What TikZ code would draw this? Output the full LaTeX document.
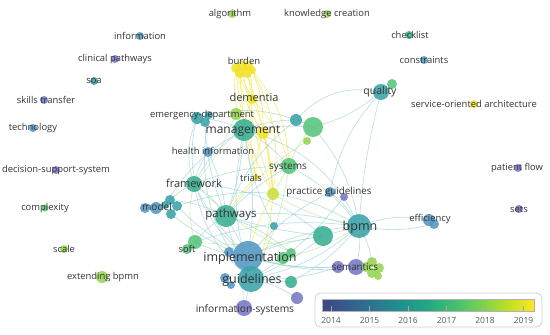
\documentclass[tikz,border=0pt]{standalone}
\usepackage{fontspec}
\setmainfont{Open Sans}
\usetikzlibrary{backgrounds}
\definecolor{cA}{HTML}{7677C6}
\definecolor{cB}{HTML}{5497C4}
\definecolor{cC}{HTML}{3AA3A8}
\definecolor{cD}{HTML}{38AE92}
\definecolor{cE}{HTML}{55C47A}
\definecolor{cF}{HTML}{95D452}
\definecolor{cG}{HTML}{C8E03A}
\definecolor{cH}{HTML}{F2E22A}
\definecolor{txt}{HTML}{333333}
\definecolor{v0}{HTML}{414487}
\definecolor{v1}{HTML}{355F8D}
\definecolor{v2}{HTML}{2A788E}
\definecolor{v3}{HTML}{21918C}
\definecolor{v4}{HTML}{22A884}
\definecolor{v5}{HTML}{44BF70}
\definecolor{v6}{HTML}{7AD151}
\definecolor{v7}{HTML}{BDDF26}
\definecolor{v8}{HTML}{FDE725}
\pgfdeclarehorizontalshading{viridis}{100bp}{color(0bp)=(v0); color(25bp)=(v0); color(31.25bp)=(v1); color(37.5bp)=(v2); color(43.75bp)=(v3); color(50bp)=(v4); color(56.25bp)=(v5); color(62.5bp)=(v6); color(68.75bp)=(v7); color(75bp)=(v8); color(100bp)=(v8)}
\tikzset{
  bub/.style={circle, inner sep=0pt, draw=none, fill opacity=0.88},
  lab/.style={text=txt, inner sep=0pt, font=\fontsize{9.4}{10}\selectfont},
  lkT/.style={draw=cC!50, line width=0.7pt, opacity=0.65},
  lkY/.style={draw=cH!80, line width=0.7pt, opacity=0.75},
  lkG/.style={draw=cF!55, line width=0.7pt, opacity=0.7},
  yr/.style={text=black!65, inner sep=0pt, font=\fontsize{8.5}{9}\selectfont}
}
\newcommand\bub[5]{\node[bub, minimum size=#4pt*2, fill=#5] (#1) at (#2,#3) {};}
\begin{document}
\begin{tikzpicture}[x=1pt,y=-1pt]
\useasboundingbox (0,0) rectangle (550,335);
% isolated nodes
\bub{alg}{232}{14}{4}{cF}
\bub{kc}{327}{14}{4}{cF}
\bub{info}{140}{36}{4}{cB}
\bub{check}{409}{35}{4}{cD}
\bub{clin}{115}{59}{4}{cA}
\bub{cons}{424}{60}{4}{cB}
\bub{soa}{94}{81}{4}{cC}
\bub{skills}{44}{100}{4}{cA}
\bub{soarch}{474}{104}{4}{cH}
\bub{tech}{33}{128}{4}{cB}
\bub{dss}{56}{170}{4}{cA}
\bub{pflow}{518}{168}{4}{cA}
\bub{compl}{45}{208}{3.5}{cE}
\bub{sets}{519}{209}{4}{cA}
\bub{scale}{64}{249}{4}{cF}
\bub{ext}{102}{277}{6}{cF}
% central cluster
\bub{bur1}{236}{68}{5}{cH}
\bub{bur2}{242}{66}{5}{cH}
\bub{bur3}{248}{66}{5}{cH}
\bub{bur4}{240}{73}{5}{cH}
\bub{bur5}{247}{73}{5}{cH}
\bub{bur6}{252}{70}{4}{cH}
\bub{dem}{252}{99}{5}{cH}
\bub{em1}{197}{118}{6}{cC}
\bub{em2}{205}{122}{5}{cC}
\bub{em3}{209}{115}{4}{cC}
\bub{gr236}{236}{114}{6}{cF}
\bub{mgmt}{244}{130}{11}{cD}
\bub{yel263}{263}{133}{6}{cH}
\bub{hinfo}{208}{152}{5}{cB}
\bub{t296}{296}{120}{6}{cC}
\bub{bigG}{313}{127}{10}{cE}
\bub{lim307}{307}{141}{4}{cF}
\bub{qual}{381}{92}{8}{cC}
\bub{qualg}{392}{84}{5}{cE}
\bub{sys}{289}{166}{8}{cE}
\bub{trials}{256}{177}{3}{cH}
\bub{lim273}{273}{194}{6}{cG}
\bub{pg1}{330}{192}{5}{cB}
\bub{pg2}{344}{197}{4}{cA}
\bub{frame}{194}{184}{8}{cD}
\bub{mod1}{145}{208}{5}{cB}
\bub{mod2}{156}{208}{6}{cB}
\bub{mod3}{170}{200}{5}{cC}
\bub{mod4}{177}{206}{5}{cC}
\bub{mod5}{171}{214}{5}{cC}
\bub{mod6}{165}{205}{4}{cC}
\bub{path}{226}{216}{11}{cD}
\bub{t274}{274}{226}{4}{cC}
\bub{soft}{195}{242}{7}{cE}
\bub{soft2}{187}{249}{5}{cE}
\bub{bigT}{323}{236}{10}{cD}
\bub{bpmn}{359}{226}{12}{cC}
\bub{eff1}{429}{220}{6}{cB}
\bub{eff2}{434}{224}{5}{cB}
\bub{impl}{248}{256}{15}{cB}
\bub{impb}{229}{252}{5}{cB}
\bub{g283}{283}{258}{6}{cE}
\bub{g290}{291}{253}{5}{cE}
\bub{guide}{251}{279}{13}{cC}
\bub{gb1}{225}{278}{5}{cB}
\bub{gb2}{231}{285}{4}{cB}
\bub{t291}{291}{282}{6}{cD}
\bub{sem1}{338}{267}{6}{cA}
\bub{sem2}{356}{267}{8}{cA}
\bub{lc1}{372}{262}{5}{cF}
\bub{lc2}{379}{268}{5}{cF}
\bub{lc3}{372}{273}{5}{cF}
\bub{lc4}{366}{267}{5}{cF}
\bub{lc5}{378}{276}{4}{cF}
\bub{p297}{297}{298}{6}{cA}
\bub{isys}{244}{308}{8}{cA}
% edges
\begin{pgfonlayer}{background}
\draw[lkY] (bur1.center) to[bend right=8] (dem.center);
\draw[lkY] (bur3.center) to[bend left=8] (dem.center);
\draw[lkY] (bur4.center) -- (dem.center);
\draw[lkY] (bur5.center) to[bend left=4] (dem.center);
\draw[lkY] (bur1.center) to[bend right=10] (yel263.center);
\draw[lkY] (bur6.center) to[bend left=12] (yel263.center);
\draw[lkY] (bur4.center) to[bend right=6] (trials.center);
\draw[lkY] (bur1.center) to[bend right=12] (lim273.center);
\draw[lkY] (bur5.center) to[bend left=6] (lim273.center);
\draw[lkY] (bur6.center) to[bend left=18] (lim273.center);
\draw[lkY] (bur2.center) to[bend right=4] (lim273.center);
\draw[lkY] (dem.center) to[bend left=10] (lim273.center);
\draw[lkY] (dem.center) to[bend right=8] (trials.center);
\draw[lkY] (dem.center) to[bend right=10] (mgmt.center);
\draw[lkY] (bur1.center) to[bend right=15] (mgmt.center);
\draw[lkY] (yel263.center) to[bend left=6] (lim273.center);
\draw[lkY] (yel263.center) to[bend right=10] (trials.center);
\draw[lkY] (lim273.center) to[bend left=10] (guide.center);
\draw[lkY] (lim273.center) to[bend right=8] (impl.center);
\draw[lkY] (trials.center) to[bend right=6] (path.center);
\draw[lkY] (dem.center) to[bend left=15] (sys.center);
\draw[lkY] (bur3.center) to[bend left=20] (sys.center);
\draw[lkG] (lim273.center) to[bend right=10] (bpmn.center);
\draw[lkG] (lim273.center) -- (sys.center);
\draw[lkG] (soft.center) to[bend left=15] (frame.center);
\draw[lkG] (sys.center) to[bend left=10] (guide.center);
\draw[lkG] (g283.center) to[bend right=10] (bpmn.center);
\draw[lkG] (lim307.center) to[bend right=10] (path.center);
\draw[lkG] (gr236.center) to[bend left=10] (frame.center);
\draw[lkG] (sys.center) to[bend left=12] (bigG.center);
\draw[lkG] (soft.center) to[bend right=8] (bigT.center);
\draw[lkG] (g290.center) to[bend left=8] (frame.center);
\draw[lkT] (em1.center) to[bend right=20] (frame.center);
\draw[lkT] (em1.center) to[bend left=10] (mgmt.center);
\draw[lkT] (em2.center) to[bend right=10] (path.center);
\draw[lkT] (em1.center) to[bend right=35] (impl.center);
\draw[lkT] (em3.center) to[bend right=25] (guide.center);
\draw[lkT] (em1.center) to[bend left=20] (bigG.center);
\draw[lkT] (mgmt.center) to[bend right=15] (frame.center);
\draw[lkT] (mgmt.center) to[bend left=8] (path.center);
\draw[lkT] (mgmt.center) to[bend left=10] (impl.center);
\draw[lkT] (mgmt.center) to[bend right=15] (guide.center);
\draw[lkT] (mgmt.center) to[bend left=25] (bpmn.center);
\draw[lkT] (mgmt.center) to[bend left=10] (t296.center);
\draw[lkT] (mgmt.center) to[bend left=6] (bigG.center);
\draw[lkT] (bigG.center) to[bend right=12] (qual.center);
\draw[lkT] (t296.center) to[bend left=30] (qual.center);
\draw[lkT] (qual.center) to[bend right=15] (pg1.center);
\draw[lkT] (qual.center) to[bend right=5] (bpmn.center);
\draw[lkT] (bigG.center) to[bend left=15] (bpmn.center);
\draw[lkT] (frame.center) to[bend left=10] (path.center);
\draw[lkT] (frame.center) to[bend right=10] (impl.center);
\draw[lkT] (frame.center) to[bend right=20] (guide.center);
\draw[lkT] (frame.center) to[bend right=10] (mod3.center);
\draw[lkT] (frame.center) to[bend left=10] (sys.center);
\draw[lkT] (frame.center) to[bend left=18] (bigT.center);
\draw[lkT] (path.center) -- (impl.center);
\draw[lkT] (path.center) to[bend right=10] (guide.center);
\draw[lkT] (path.center) to[bend left=10] (bpmn.center);
\draw[lkT] (path.center) to[bend right=5] (bigT.center);
\draw[lkT] (path.center) to[bend left=8] (sys.center);
\draw[lkT] (impl.center) -- (guide.center);
\draw[lkT] (impl.center) to[bend left=10] (bpmn.center);
\draw[lkT] (impl.center) to[bend left=6] (bigT.center);
\draw[lkT] (guide.center) to[bend right=8] (bigT.center);
\draw[lkT] (guide.center) to[bend right=10] (sem1.center);
\draw[lkT] (guide.center) to[bend right=14] (bpmn.center);
\draw[lkT] (guide.center) -- (isys.center);
\draw[lkT] (impl.center) to[bend right=10] (isys.center);
\draw[lkT] (bpmn.center) -- (bigT.center);
\draw[lkT] (bpmn.center) to[bend left=15] (eff1.center);
\draw[lkT] (bpmn.center) to[bend right=12] (eff2.center);
\draw[lkT] (sys.center) to[bend left=12] (bpmn.center);
\draw[lkT] (sys.center) to[bend right=10] (mgmt.center);
\draw[lkT] (mod4.center) to[bend left=25] (bpmn.center);
\draw[lkT] (mod5.center) to[bend right=20] (sem1.center);
\draw[lkT] (mod3.center) to[bend left=10] (path.center);
\draw[lkT] (mod4.center) to[bend right=10] (impl.center);
\draw[lkT] (mod6.center) to[bend left=15] (mgmt.center);
\draw[lkT] (hinfo.center) to[bend right=10] (frame.center);
\draw[lkT] (hinfo.center) to[bend left=10] (path.center);
\draw[lkT] (soft.center) to[bend left=10] (path.center);
\draw[lkT] (soft.center) to[bend right=10] (impl.center);
\draw[lkT] (soft.center) to[bend left=12] (bpmn.center);
\draw[lkT] (pg1.center) to[bend left=10] (bpmn.center);
\draw[lkT] (pg1.center) to[bend right=10] (impl.center);
\draw[lkT] (pg2.center) to[bend left=10] (guide.center);
\draw[lkT] (sem2.center) to[bend right=10] (bpmn.center);
\draw[lkT] (sem1.center) to[bend left=10] (impl.center);
\draw[lkT] (lc1.center) to[bend right=10] (bpmn.center);
\draw[lkT] (lc4.center) to[bend left=12] (impl.center);
\draw[lkT] (t291.center) to[bend right=10] (bpmn.center);
\draw[lkT] (t291.center) -- (guide.center);
\draw[lkT] (t274.center) to[bend left=10] (mgmt.center);
\draw[lkT] (p297.center) to[bend right=10] (guide.center);
\draw[lkT] (g290.center) to[bend right=10] (path.center);
\draw[lkT] (t296.center) to[bend right=15] (path.center);
\end{pgfonlayer}
% labels
\node[lab] (Lalg) at (230,14) {algorithm};
\node[lab] (Lkc) at (327,14) {knowledge creation};
\node[lab] (Linfo) at (140,36) {information};
\node[lab] (Lcheck) at (410,35) {checklist};
\node[lab] (Lclin) at (115,59) {clinical pathways};
\node[lab] (Lcons) at (424,60) {constraints};
\node[lab] (Lsoa) at (94,81) {soa};
\node[lab] (Lskills) at (46,100) {skills transfer};
\node[lab] (Lsoarch) at (474,104) {service-oriented architecture};
\node[lab] (Ltech) at (33,128) {technology};
\node[lab] (Ldss) at (56,170) {decision-support-system};
\node[lab] (Lpflow) at (517,168) {patient flow};
\node[lab] (Lcompl) at (45,208) {complexity};
\node[lab] (Lsets) at (519,209) {sets};
\node[lab] (Lscale) at (64,249) {scale};
\node[lab] (Lext) at (103,277) {extending bpmn};
\node[lab, font=\fontsize{9.5}{10}\selectfont] (Lbur) at (244,61) {burden};
\node[lab, font=\fontsize{11}{12}\selectfont] (Ldem) at (254,97) {dementia};
\node[lab] (Lem) at (202,115) {emergency-department};
\node[lab, font=\fontsize{12}{13}\selectfont] (Lmgmt) at (243,131) {management};
\node[lab] (Lhinfo) at (213,151) {health information};
\node[lab, font=\fontsize{10.5}{11}\selectfont] (Lqual) at (380,92) {quality};
\node[lab, font=\fontsize{10}{11}\selectfont] (Lsys) at (288,167) {systems};
\node[lab] (Ltrials) at (251,178) {trials};
\node[lab, font=\fontsize{9.8}{10}\selectfont] (Lpg) at (329,192) {practice guidelines};
\node[lab, font=\fontsize{11}{12}\selectfont] (Lframe) at (194,183) {framework};
\node[lab, font=\fontsize{10}{11}\selectfont] (Lmod) at (157,207) {model};
\node[lab, font=\fontsize{11.5}{12}\selectfont] (Lpath) at (231,215) {pathways};
\node[lab] (Lsoft) at (187,249) {soft};
\node[lab, font=\fontsize{12.5}{13}\selectfont] (Lbpmn) at (360,227) {bpmn};
\node[lab] (Leff) at (430,219) {efficiency};
\node[lab, font=\fontsize{12.5}{13}\selectfont] (Limpl) at (250,258) {implementation};
\node[lab, font=\fontsize{12.5}{13}\selectfont] (Lguide) at (252,280) {guidelines};
\node[lab, font=\fontsize{9.8}{10}\selectfont] (Lsem) at (355,267) {semantics};
\node[lab, font=\fontsize{10.2}{11}\selectfont] (Lisys) at (245,310) {information-systems};
% legend
\draw[draw=black!18, line width=0.8pt, fill=white, rounded corners=6pt] (315,293) rectangle (542,327);
\shade[shading=viridis] (322,299) rectangle (534,311);
\draw[black!30, line width=0.4pt] (322,299) rectangle (534,311);
\foreach \yy/\xx in {2014/331,2015/369.5,2016/408,2017/446.5,2018/485,2019/523.5}{
  \draw[black!35, line width=0.4pt] (\xx,306) -- (\xx,311);
  \node[yr] (Y\yy) at (\xx,320.5) {\yy};
}
\end{tikzpicture}
\end{document}
